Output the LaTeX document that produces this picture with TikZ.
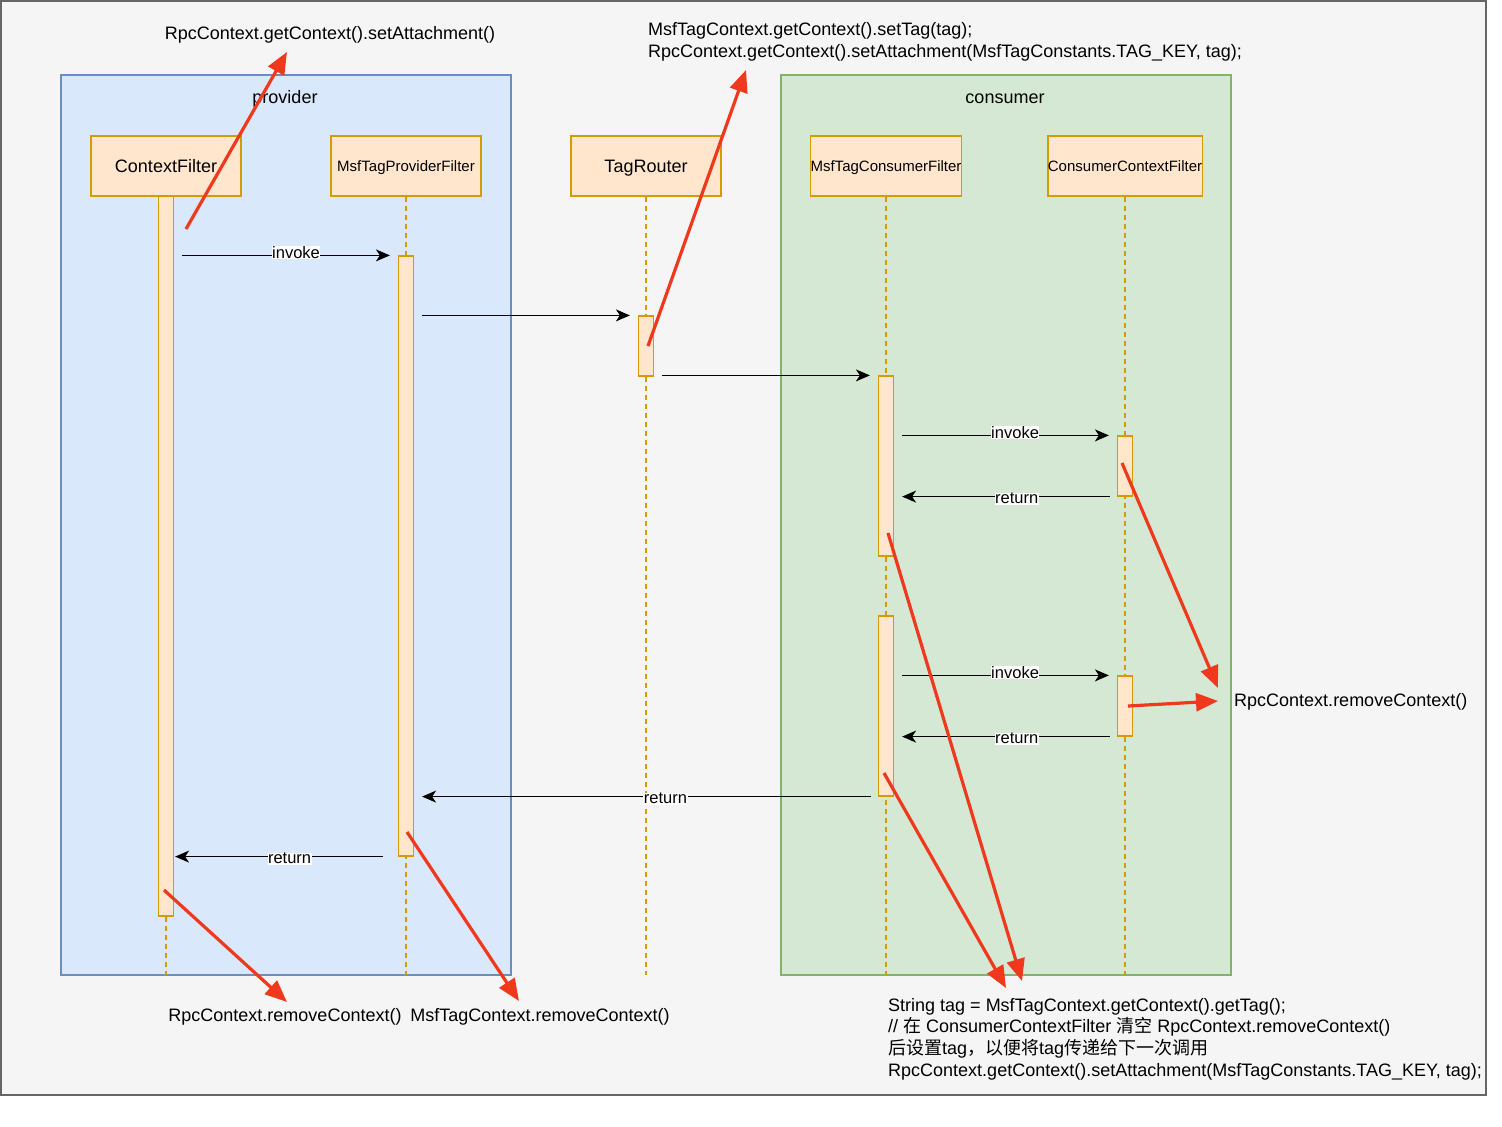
\documentclass[tikz,border=0pt]{standalone}
\usepackage{fontspec}
\setmainfont{Liberation Sans}
\newfontfamily\cjk{Noto Sans CJK SC}
\usetikzlibrary{arrows.meta,calc}
\definecolor{frameg}{HTML}{666666}
\definecolor{framebg}{HTML}{F5F5F5}
\definecolor{provfill}{HTML}{DAE8FC}
\definecolor{provline}{HTML}{6C8EBF}
\definecolor{consfill}{HTML}{D5E8D4}
\definecolor{consline}{HTML}{82B366}
\definecolor{hdrfill}{HTML}{FFE6CC}
\definecolor{hdrline}{HTML}{D79B00}
\definecolor{redarr}{RGB}{240,56,28}
\tikzset{
  hdr/.style={draw=hdrline, fill=hdrfill, line width=1.2pt, minimum width=150pt, minimum height=60pt, inner sep=0pt, text depth=0pt},
  bigtxt/.style={font=\fontsize{18}{21.6}\selectfont},
  smalltxt/.style={font=\fontsize{15}{18}\selectfont},
  actbar/.style={draw=hdrline, fill=hdrfill, line width=1.2pt, minimum width=15pt, inner sep=0pt},
  life/.style={draw=hdrline, line width=1.2pt, dash pattern=on 5pt off 4pt},
  msg/.style={draw=black, line width=1.3pt, -{Stealth[length=14pt,width=12pt,inset=4pt]}},
  lbl/.style={fill=white, inner sep=0.5pt, font=\fontsize{16.5}{19}\selectfont},
  invlbl/.style={lbl, yshift=3pt},
  retlbl/.style={lbl, yshift=-2pt},
  note/.style={draw=redarr, line width=3.2pt, -{Triangle[length=22pt,width=18pt]}},
  txt/.style={bigtxt, inner sep=0pt, align=left, yshift=-2.5pt}
}
\begin{document}
\begin{tikzpicture}[x=1pt,y=-1pt]
\useasboundingbox (0,0) rectangle (1502,1127);
% outer frame
\draw[draw=frameg, fill=framebg, line width=1.2pt] (1,1) rectangle (1486,1095);
% containers
\node[draw=provline, fill=provfill, line width=1.2pt, minimum width=450pt, minimum height=900pt, inner sep=0pt] (prov) at (286,525) {};
\node[draw=consline, fill=consfill, line width=1.2pt, minimum width=450pt, minimum height=900pt, inner sep=0pt] (cons) at (1006,525) {};
\node[txt] (provlbl) at (285,96) {provider};
\node[txt] (conslbl) at (1005,96) {consumer};
% headers
\node[hdr, bigtxt] (cf) at (166,166) {ContextFilter};
\node[hdr, smalltxt] (mpf) at (406,166) {MsfTagProviderFilter};
\node[hdr, bigtxt] (tr) at (646,166) {TagRouter};
\node[hdr, smalltxt] (mcf) at (886,166) {MsfTagConsumerFilter};
\node[hdr, smalltxt] (ccf) at (1125,166) {ConsumerContextFilter};
\coordinate (bot) at (0,975);
% lifelines
\foreach \h in {cf,mpf,tr,mcf,ccf}{
  \draw[life] (\h.south) -- (\h.south |- bot);
}
% activation bars
\node[actbar, minimum height=720pt] (cfbar) at (166,556) {};
\node[actbar, minimum height=600pt] (mpfbar) at (406,556) {};
\node[actbar, minimum height=60pt] (trbar) at (646,346) {};
\node[actbar, minimum height=180pt] (mcfa) at (886,466) {};
\node[actbar, minimum height=180pt] (mcfb) at (886,706) {};
\node[actbar, minimum height=60pt] (ccfa) at (1125,466) {};
\node[actbar, minimum height=60pt] (ccfb) at (1125,706) {};
% messages
\draw[msg, shorten <=8pt, shorten >=8pt] (cfbar.east |- mpfbar.north) -- node[invlbl, pos=0.545]{invoke} (mpfbar.north west);
\draw[msg, shorten <=8pt, shorten >=8pt] (mpfbar.east |- trbar.north) -- (trbar.north west);
\draw[msg, shorten <=8pt, shorten >=8pt] (trbar.east |- mcfa.north) -- (mcfa.north west);
\draw[msg, shorten <=8pt, shorten >=8pt] (mcfa.east |- ccfa.north) -- node[invlbl, pos=0.543]{invoke} (ccfa.north west);
\draw[msg, shorten <=7pt, shorten >=8pt] (ccfa.south west) -- node[retlbl, pos=0.45]{return} (mcfa.east |- ccfa.south);
\draw[msg, shorten <=8pt, shorten >=8pt] (mcfb.east |- ccfb.north) -- node[invlbl, pos=0.543]{invoke} (ccfb.north west);
\draw[msg, shorten <=7pt, shorten >=8pt] (ccfb.south west) -- node[retlbl, pos=0.45]{return} (mcfb.east |- ccfb.south);
\draw[msg, shorten <=7pt, shorten >=8pt] (mcfb.south west) -- node[retlbl, pos=0.458]{return} (mpfbar.east |- mcfb.south);
\draw[msg, shorten <=15pt, shorten >=1pt] (mpfbar.south west) -- node[retlbl, pos=0.484]{return} (cfbar.east |- mpfbar.south);
% texts
\node[txt, anchor=center] (t1) at (330,32) {RpcContext.getContext().setAttachment()};
\node[txt, anchor=west] (t2) at (648,39.5) {MsfTagContext.getContext().setTag(tag);\\RpcContext.getContext().setAttachment(MsfTagConstants.TAG\_KEY, tag);};
\node[txt, anchor=west] (t3) at (1234,699) {RpcContext.removeContext()};
\node[txt, anchor=center] (t4) at (285,1014) {RpcContext.removeContext()};
\node[txt, anchor=center] (t5) at (540,1014) {MsfTagContext.removeContext()};
\node[txt, anchor=west] (t6) at (888,1036.5) {String tag = MsfTagContext.getContext().getTag();\\// {\cjk 在} ConsumerContextFilter {\cjk 清空} RpcContext.removeContext()\\{\cjk 后设置}tag{\cjk ，以便将}tag{\cjk 传递给下一次调用}\\RpcContext.getContext().setAttachment(MsfTagConstants.TAG\_KEY, tag);};
% red annotation arrows
\coordinate (r1s) at (186,229); \coordinate (r1e) at (287,52);
\coordinate (r2s) at (648,346); \coordinate (r2e) at (746,70);
\coordinate (r3s) at (1122,463); \coordinate (r3e) at (1218,688);
\coordinate (r4s) at (1128,706); \coordinate (r4e) at (1218,701);
\coordinate (r5s) at (888,533); \coordinate (r5e) at (1022,981);
\coordinate (r6s) at (884,773); \coordinate (r6e) at (1006,988);
\coordinate (r7s) at (164,890); \coordinate (r7e) at (287,1002);
\coordinate (r8s) at (407,832); \coordinate (r8e) at (519,1001);
\foreach \i in {1,...,8}{
  \draw[note] (r\i s) -- (r\i e);
}
\end{tikzpicture}
\end{document}
